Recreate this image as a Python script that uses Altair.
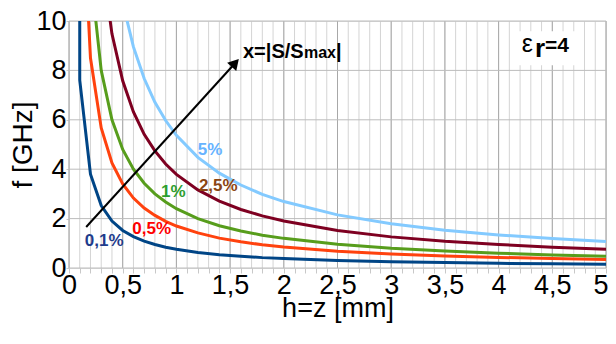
import altair as alt
import pandas as pd

# ---- data ----
h_mm = [0.1, 0.1, 0.2, 0.3, 0.4, 0.5, 0.6, 0.7, 0.8, 0.9, 1.0, 1.2, 1.4, 1.6, 1.8,
        2.0, 2.5, 3.0, 3.5, 4.0, 4.5, 5.0]
series_names = ["0,1%", "0,5%", "1%", "2,5%", "5%"]
f_01 = [12.0, 7.6, 3.8, 2.53, 1.9, 1.52, 1.27, 1.09, 0.95, 0.84, 0.76, 0.63, 0.54, 0.48, 0.42,
        0.38, 0.30, 0.25, 0.22, 0.19, 0.17, 0.15]
f_05 = [12.0, 17.0, 8.5, 5.67, 4.25, 3.4, 2.83, 2.43, 2.13, 1.89, 1.70, 1.42, 1.21, 1.06, 0.94,
        0.85, 0.68, 0.57, 0.49, 0.43, 0.38, 0.34]
f_1 = [12.0, 24.0, 12.0, 8.0, 6.0, 4.8, 4.0, 3.43, 3.0, 2.67, 2.4, 2.0, 1.71, 1.5, 1.33,
       1.2, 0.96, 0.8, 0.69, 0.6, 0.53, 0.48]
f_25 = [12.0, 37.9, 18.95, 12.63, 9.48, 7.58, 6.32, 5.41, 4.74, 4.21, 3.79, 3.16, 2.71, 2.37, 2.11,
        1.90, 1.52, 1.26, 1.08, 0.95, 0.84, 0.76]
f_5 = [12.0, 53.7, 26.85, 17.9, 13.43, 10.74, 8.95, 7.67, 6.71, 5.97, 5.37, 4.48, 3.84, 3.36, 2.98,
       2.69, 2.15, 1.79, 1.53, 1.34, 1.19, 1.07]
line_colors = ["#004586", "#ff420e", "#579d1c", "#7e0021", "#83caff"]

label_h = [0.328, 0.77, 0.971, 1.39, 1.313]
label_f = [1.09, 1.575, 3.06, 3.32, 4.78]
label_colors = ["#1f3c8c", "#ff0000", "#2e9e2e", "#8b4513", "#66b3ff"]

x_minor = [round(i * 0.1, 1) for i in range(51)]
x_major = [round(i * 0.5, 1) for i in range(11)]
y_major = [0, 2, 4, 6, 8, 10]

arrow_h = [0.16, 1.548]
arrow_f = [1.66, 8.30]

FONT = "Liberation Sans"

# ---- tables ----
rows = []
for name, vals in zip(series_names, [f_01, f_05, f_1, f_25, f_5]):
    for i, (h, f) in enumerate(zip(h_mm, vals)):
        rows.append({"h": h, "f": f, "series": name, "i": i})
curves_df = pd.DataFrame(rows)

xs = alt.Scale(domain=[0, 5], nice=False, zero=False)
ys = alt.Scale(domain=[0, 10], nice=False, zero=False)

AX = alt.Axis(
    values=x_minor, grid=False, domain=False, tickSize=5, tickColor="#c8c8c8",
    labelExpr="abs(datum.value*2 - round(datum.value*2)) < 0.01 ? replace(format(datum.value, '~g'), '.', ',') : ''",
    labelFont=FONT, labelFontSize=27, labelColor="#000000", labelBaseline="alphabetic",
    labelAlign=alt.condition("datum.value > 4.95", alt.value("right"), alt.value("center")),
    labelOffset=alt.condition("datum.value > 4.95", alt.value(2), alt.value(0)),
    labelPadding=20, labelFlush=False, labelOverlap=False, labelBound=False,
    title="h=z [mm]", titleFont=FONT, titleFontSize=27, titleFontWeight="normal",
    titleColor="#000000", titleBaseline="alphabetic", titleY=48, titleX=268.5,
    titleAlign="center")

AY = alt.Axis(
    values=y_major, grid=False, domain=False, tickSize=3, tickColor="#c8c8c8",
    labelFont=FONT, labelFontSize=27, labelColor="#000000", labelPadding=0,
    labelFlush=False, labelOverlap=False, labelBound=False,
    title="f [GHz]", titleFont=FONT, titleFontSize=28, titleFontWeight="normal",
    titleColor="#000000", titleAngle=-90, titleAlign="center", titleBaseline="middle",
    titleX=-46, titleY=123.5)


def X(field="h:Q"):
    return alt.X(field, scale=xs, axis=AX)


def Y(field="f:Q"):
    return alt.Y(field, scale=ys, axis=AY)


minor_grid = alt.Chart(pd.DataFrame({"h": x_minor})).mark_rule(
    color="#d4d4d4", strokeWidth=1
).encode(x=X(), y=alt.value(0), y2=alt.value(247))

major_grid = alt.Chart(pd.DataFrame({"h": x_major})).mark_rule(
    color="#a8a8a8", strokeWidth=1
).encode(x=X(), y=alt.value(0), y2=alt.value(247))

h_grid = alt.Chart(pd.DataFrame({"f": y_major})).mark_rule(
    color="#bcbcbc", strokeWidth=1
).encode(y=Y(), x=alt.value(0), x2=alt.value(537))

curves = alt.Chart(curves_df).mark_line(strokeWidth=3, clip=True).encode(
    x=X(), y=Y(),
    color=alt.Color("series:N", scale=alt.Scale(domain=series_names, range=line_colors), legend=None),
    order="i:Q",
)

labels_df = pd.DataFrame({"h": label_h, "f": label_f, "t": series_names, "c": label_colors})
labels = alt.Chart(labels_df).mark_text(
    font=FONT, fontSize=17, fontWeight="bold", align="center", baseline="middle"
).encode(
    x=X(), y=Y(), text="t:N",
    color=alt.Color("c:N", scale=None),
)

arrow_df = pd.DataFrame({"h": arrow_h, "f": arrow_f, "k": [0, 1]})
arrow_line = alt.Chart(arrow_df).mark_line(color="#000000", strokeWidth=2).encode(
    x=X(), y=Y(), order="k:Q"
)
arrow_head = alt.Chart(arrow_df.iloc[[1]]).mark_point(
    shape="triangle-up", filled=True, color="#000000", size=150, angle=42, opacity=1
).encode(x=X(), y=Y())


def txt(h, f, t, size, weight):
    d = pd.DataFrame({"h": [h], "f": [f], "t": [t]})
    return alt.Chart(d).mark_text(
        font=FONT, fontSize=size, fontWeight=weight, align="left",
        baseline="alphabetic", color="#000000"
    ).encode(x=X(), y=Y(), text="t:N")


# annotation "x=|S/Smax|"
ann1 = txt(1.62, 8.49, "x=|S/S", 20, "bold")
ann2 = txt(2.188, 8.49, "max", 16, "bold")
ann3 = txt(2.486, 8.49, "|", 20, "bold")

# epsilon box
box_df = pd.DataFrame({"h": [4.125], "h2": [4.777], "f": [8.207], "f2": [9.583]})
box = alt.Chart(box_df).mark_rect(color="#ffffff").encode(
    x=X(), x2="h2:Q", y=Y(), y2="f2:Q"
)
eps1 = txt(4.215, 8.753, "ε", 25, "normal")
eps2 = txt(4.339, 8.53, "r", 26, "bold")
eps3 = txt(4.432, 8.753, "=4", 21, "bold")

chart = alt.layer(
    minor_grid, major_grid, h_grid, box, curves, labels, arrow_line, arrow_head,
    ann1, ann2, ann3, eps1, eps2, eps3
).properties(
    width=537, height=247,
    autosize=alt.AutoSizeParams(type="none"),
    padding={"left": 61, "top": 13, "right": 2, "bottom": 55},
).configure_view(strokeWidth=0).configure(background="#ffffff")

chart.save("out.html", embed_options={"renderer": "svg", "actions": False})
